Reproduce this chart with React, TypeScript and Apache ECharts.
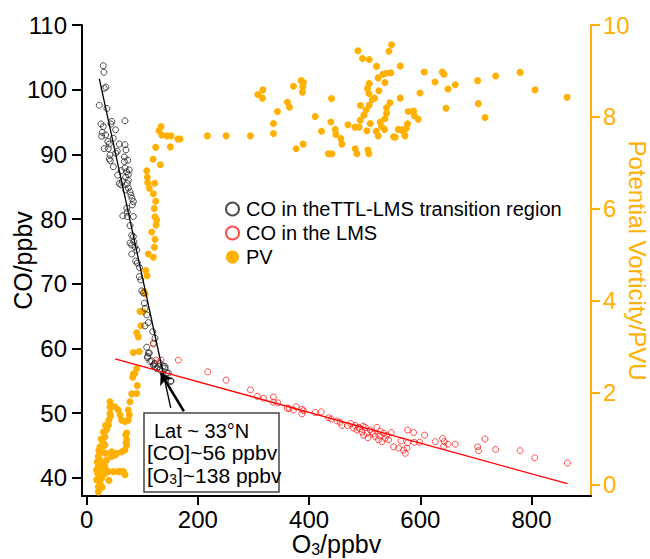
import React, { useEffect, useRef } from "react";
import * as echarts from "echarts";

// ---- Data ----
const xTicks = [0, 200, 400, 600, 800];
const coTicks = [40, 50, 60, 70, 80, 90, 100, 110];
const pvTicks = [0, 2, 4, 6, 8, 10];

// CO in the TTL-LMS transition region [O3, CO]
const coTransition: number[][] = [
  [29.9, 103.7], [31.1, 102.7], [34.7, 100.4], [31.7, 100.2], [22.7, 97.6], [36.5, 97.1],
  [25.7, 94.7], [45, 95.1], [43.7, 94.7], [68.9, 95.2], [29.9, 94.3], [28.1, 93.4],
  [27, 92.8], [34.2, 93], [47.9, 92.5], [40.7, 91.6], [58.7, 91.6], [68.9, 91.5],
  [31.7, 90.9], [38.9, 90.9], [70.7, 90.7], [52.2, 90.2], [41.9, 89.9], [67.7, 89.6],
  [40.7, 89.3], [42.5, 89], [73.8, 89.1], [67.7, 88.9], [47.9, 88.1], [68.9, 87.9],
  [76.7, 87.6], [72, 87.3], [55.8, 86.8], [74.9, 86.9], [58.7, 85.5], [61.7, 85.3],
  [73.1, 85.5], [74.9, 84.8], [77.9, 84.2], [79.7, 83.7], [81.5, 83.2], [83.9, 82.7],
  [82.1, 82.2], [72, 81.7], [73.1, 81.1], [73.1, 80.4], [83.9, 80.4], [81, 77.5],
  [83.9, 77.3], [77.9, 76.3], [81, 76], [86.9, 75.7], [90, 75.2], [81, 74.6],
  [91.1, 73.2], [94.7, 71.1], [97.2, 70.6], [99, 68.9], [101.9, 68.6], [103.7, 67],
  [104.9, 66.2], [108, 65.2], [110.9, 64], [118.8, 62.6], [122.9, 61.6], [108, 60.2],
  [110.9, 59.3], [109.8, 58.8], [113.9, 58], [121.7, 57.6], [122.9, 57.2], [128.9, 57.2],
  [140.9, 57.2], [146.9, 56.2], [151.7, 55], [62, 87.5], [75, 86], [70, 84.5],
  [65, 80.5], [78, 79], [70, 86.5], [52, 93.8], [64, 85.8], [88, 73.5], [105, 63.5],
  [120, 60.8], [112.7, 59.3], [109.1, 58.6], [117, 58.1], [122.9, 57.7], [119.9, 57.4],
  [131.9, 57.7], [137.9, 57.3], [140.9, 56.9], [144, 56.2], [151.2, 54.9], [131.9, 56.7],
  [126, 56.9], [55, 90.5], [38, 92], [95, 72.5], [85, 76.5],
];

// CO in the LMS [O3, CO]
const coLMS: number[][] = [
  [119.9, 60.7], [124.7, 58.2], [133.7, 58.2], [164.9, 58.2], [217.8, 56.4], [250.7, 55.1],
  [294.5, 53.6], [307.1, 52.6], [317.9, 52.3], [335.9, 52.5], [335.9, 51.7], [343.8, 51.6],
  [360.5, 50.8], [364.1, 50.7], [376.7, 51], [371.9, 50.5], [387, 50.6], [389.9, 50.4],
  [387, 49.9], [411, 50.1], [421.7, 50.2], [434.9, 49.3], [439.7, 49.1], [450, 48.8],
  [455.9, 48.6], [459, 48.1], [469.1, 48.1], [482.9, 48.1], [488.9, 47.8], [486, 47.4],
  [495, 47.1], [501, 47.8], [504, 46.9], [509.9, 47.4], [522, 47.8], [513, 47.1],
  [518.9, 46.4], [524.9, 45.9], [531, 45.6], [536.9, 46.1], [542.9, 45.9], [547.7, 47],
  [533.9, 46.9], [577.1, 47.4], [587.9, 47], [607.7, 46.6], [565.2, 45.7], [551.9, 44.8],
  [560.9, 44.6], [569.9, 44.3], [572.9, 43.8], [576, 44.6], [577.1, 45.4], [589.1, 45.5],
  [598.7, 45.5], [626.9, 45.6], [640.1, 46.1], [643.1, 45.6], [641.9, 44.9], [649.8, 45.2],
  [662.9, 45.2], [703.1, 44.8], [704.9, 44.2], [716.4, 46], [735.5, 44.4], [779.4, 44.2],
  [805.7, 43.1], [864.5, 42.3], [492, 47.6], [498, 46.6], [506, 46.2], [515, 46.8],
  [527, 46.5], [540, 46.6], [528, 47.2], [497, 48], [480, 47.7], [475, 48.4],
];

// PV [O3, PVU]
const pv: number[][] = [
  [168, 7.52], [217.1, 7.59], [250.7, 7.59], [294.5, 7.59], [335.9, 7.64], [335.9, 7.86],
  [343.1, 8.12], [307.8, 8.49], [316.8, 8.59], [316.1, 8.41], [361.1, 8.32], [364.7, 8.21],
  [371.9, 8.67], [385.7, 8.79], [389.9, 8.75], [388.8, 8.66], [388.1, 8.54], [376.7, 7.31],
  [389.3, 7.41], [411, 8.01], [422.3, 7.69], [440.3, 8.4], [439.2, 7.89], [446.9, 7.73],
  [448.2, 7.62], [457.2, 7.53], [459, 7.41], [434.9, 7.2], [441, 7.2], [469.8, 7.83],
  [482.4, 7.78], [490.1, 7.78], [492, 7.93], [482.9, 7.31], [486, 7.2], [487.8, 9.44],
  [496.1, 9.27], [508.1, 9.25], [521.3, 9.1], [492.5, 8.25], [498.6, 8.04], [502.7, 8.15],
  [508.1, 8.26], [505.1, 8.62], [508.1, 8.73], [507.6, 8.51], [513.5, 8.38], [517.7, 8.41],
  [525.6, 8.57], [524.3, 8.85], [532.8, 8.93], [538.7, 8.95], [547.2, 8.96], [536.4, 8.75],
  [504, 7.7], [509.9, 7.86], [505.8, 7.28], [507.6, 7.2], [520.7, 7.69], [524.3, 7.59],
  [527.9, 7.89], [530.3, 7.79], [535.7, 7.73], [536.4, 7.96], [539.3, 8.08], [539.3, 8.2],
  [545.4, 8.31], [543.6, 9.43], [548.3, 9.57], [551.9, 7.57], [554.9, 7.56], [560.3, 7.73],
  [563.9, 8.41], [563.9, 9.11], [607.1, 8.98], [639.5, 8.98], [642.6, 8.93], [626.4, 8.76],
  [662.9, 8.7], [649.8, 8.61], [599.4, 8.52], [703.1, 8.79], [735.5, 8.89], [779.4, 8.97],
  [806.4, 8.59], [864, 8.43], [646.2, 8.19], [704.3, 8.29], [716.4, 7.99], [578.3, 8.12],
  [587.9, 8.13], [589.1, 8.03], [596.3, 7.95], [577.1, 7.85], [574.7, 7.75], [569.9, 7.68],
  [572.4, 7.59], [567, 7.72],
  [133.7, 7.79], [130.1, 7.7], [135, 7.61], [144, 7.59], [151.7, 7.59], [163.8, 7.52],
  [124.2, 7.34], [150.5, 7.35], [119.3, 7.08], [132.5, 6.96], [108, 6.83], [109.1, 6.69],
  [109.8, 6.57], [122.4, 6.56], [112.7, 6.45], [119.9, 6.33], [124.2, 6.17], [121.7, 6.01],
  [122.9, 5.83], [126, 5.76], [124.7, 5.65], [117, 5.5], [122.9, 5.34], [121.7, 5.17],
  [110.9, 5.02], [119.9, 4.95], [106.2, 4.66], [108.5, 4.55], [103.7, 4.2], [104.9, 4.15],
  [95.9, 3.77], [101.9, 3.77], [97.7, 3.46], [90, 3.31], [92.9, 3.22], [94.7, 2.9],
  [83.9, 2.88], [90, 2.53], [83.9, 2.41], [91.1, 2.16], [86.9, 2.43], [82.8, 2.34],
  [90, 1.99], [81, 1.98], [77.9, 1.81], [74.9, 1.63], [76.7, 1.52], [74.9, 1.41],
  [68.9, 1.38], [63, 1.41], [59.9, 1.52], [56.9, 1.63], [50.9, 1.7], [45, 1.7],
  [41.9, 1.81], [41.9, 1.7], [41.9, 1.56], [40.1, 1.41], [38.9, 1.3], [36, 1.2],
  [32.9, 1.05], [29.9, 0.91], [27, 0.8], [23.9, 0.69], [23.9, 0.54], [20.9, 0.4],
  [19.8, 0.25], [18, 0.11], [20.9, -0.04], [27, 0.15], [32.9, 0.25], [38.9, 0.29],
  [47.9, 0.29], [56.9, 0.29], [65.9, 0.29], [68.9, 0.22], [36, 0.54], [45, 0.62],
  [54, 0.69], [63, 0.72], [68.9, 0.76], [72, 0.87], [72, 0.98], [70.2, 1.09],
  [45, 0.72], [32.9, 0.87], [23.9, 0.83], [20.9, 0.62], [27, 0.47], [18, 0.33],
  [23.9, 0.04], [20.9, -0.15], [32.9, 0.4], [34.2, 0.69], [72, 1.13], [70.7, 0.91],
  [22, 0.2], [25, 0.35], [19, 0.5], [22, 0.75], [26, 1.0], [30, 1.15], [34, 1.3],
  [43, 1.5], [60, 0.3], [52, 0.65], [40, 0.1], [28, -0.05], [24, 0.0],
];

// Fitted lines and arrow [O3, CO]
const fitTransition = [[22.7, 101.7], [151.2, 50.8]];
const fitLMS = [[51, 58.4], [864.5, 39.1]];
const arrowCoords = [[174.8, 50.3], [133.2, 56.2]];

const ORANGE = "#FFB000";
const FONT = "Liberation Sans, Arial, Helvetica, sans-serif";

export default function App() {
  const ref = useRef<HTMLDivElement>(null);
  useEffect(() => {
    if (!ref.current) return;
    const chart = echarts.init(ref.current, null, { renderer: "svg" });
    chart.setOption({
      animation: false,
      backgroundColor: "#fff",
      textStyle: { fontFamily: FONT },
      grid: { left: 82, right: 59, top: 25, bottom: 63, containLabel: false, outerBoundsMode: "none" },
      legend: {
        orient: "vertical",
        left: 220,
        top: 194,
        itemWidth: 13,
        itemHeight: 13,
        itemGap: 4,
        icon: "circle",
        textStyle: { fontSize: 20, color: "#000", fontFamily: FONT, padding: [0, 0, 0, 2] },
        data: ["CO in theTTL-LMS transition region", "CO in the LMS", "PV"],
      },
      xAxis: {
        type: "value",
        min: -8.4,
        max: 907,
        name: "{a|O}{s|3}{a|/ppbv}",
        nameLocation: "middle",
        nameGap: 35,
        nameMoveOverlap: false,
        nameTextStyle: {
          rich: {
            a: { fontSize: 25, color: "#000", fontFamily: FONT, lineHeight: 26 },
            s: { fontSize: 16, color: "#000", fontFamily: FONT, verticalAlign: "bottom", lineHeight: 8 },
          },
        },
        axisLine: { show: true, onZero: false, lineStyle: { color: "#000", width: 2 } },
        axisTick: { show: true, length: 9, customValues: xTicks, lineStyle: { color: "#000", width: 2 } },
        axisLabel: { customValues: xTicks, fontSize: 24, lineHeight: 22, color: "#000", margin: 12, fontFamily: FONT },
        splitLine: { show: false },
      },
      yAxis: [
        {
          type: "value",
          position: "left",
          min: 37.2,
          max: 110,
          name: "CO/ppbv",
          nameLocation: "middle",
          nameGap: 47,
          nameMoveOverlap: false,
          nameTextStyle: { fontSize: 25, color: "#000", fontFamily: FONT },
          axisLine: { show: true, onZero: false, lineStyle: { color: "#000", width: 2 } },
          axisTick: { show: true, length: 10, customValues: coTicks, lineStyle: { color: "#000", width: 2 } },
          axisLabel: { customValues: coTicks, fontSize: 24, color: "#000", margin: 15, fontFamily: FONT },
          splitLine: { show: false },
        },
        {
          type: "value",
          position: "right",
          min: -0.24,
          max: 10,
          name: "Potential Vorticity/PVU",
          nameLocation: "middle",
          nameRotate: -90,
          nameGap: 34,
          nameMoveOverlap: false,
          nameTextStyle: { fontSize: 24, lineHeight: 24, color: ORANGE, fontFamily: FONT },
          axisLine: { show: true, onZero: false, lineStyle: { color: ORANGE, width: 2 } },
          axisTick: { show: true, length: 9, customValues: pvTicks, lineStyle: { color: ORANGE, width: 2 } },
          axisLabel: { customValues: pvTicks, fontSize: 24, color: ORANGE, margin: 12, fontFamily: FONT },
          splitLine: { show: false },
        },
      ],
      series: [
        {
          name: "PV",
          type: "scatter",
          yAxisIndex: 1,
          data: pv,
          symbol: "circle",
          symbolSize: 7,
          itemStyle: { color: ORANGE, opacity: 1 },
          z: 2,
        },
        {
          name: "CO in theTTL-LMS transition region",
          type: "scatter",
          yAxisIndex: 0,
          data: coTransition,
          symbol: "circle",
          symbolSize: 6,
          itemStyle: { color: "rgba(255,255,255,0)", borderColor: "#222", borderWidth: 1 },
          z: 3,
        },
        {
          name: "CO in the LMS",
          type: "scatter",
          yAxisIndex: 0,
          data: coLMS,
          symbol: "circle",
          symbolSize: 6,
          itemStyle: { color: "rgba(255,255,255,0)", borderColor: "#ff2020", borderWidth: 1 },
          z: 3,
        },
        {
          name: "fitTransition",
          type: "line",
          yAxisIndex: 0,
          data: fitTransition,
          showSymbol: false,
          symbol: "none",
          lineStyle: { color: "#000", width: 1.3 },
          silent: true,
          z: 4,
        },
        {
          name: "fitLMS",
          type: "line",
          yAxisIndex: 0,
          data: fitLMS,
          showSymbol: false,
          symbol: "none",
          lineStyle: { color: "#ff0000", width: 1.3 },
          silent: true,
          z: 4,
        },
        {
          name: "arrow",
          type: "lines",
          coordinateSystem: "cartesian2d",
          xAxisIndex: 0,
          yAxisIndex: 0,
          data: [{ coords: arrowCoords }],
          symbol: ["none", "arrow"],
          symbolSize: 11,
          lineStyle: { color: "#000", width: 2.5, opacity: 1, curveness: 0 },
          silent: true,
          z: 5,
        },
      ],
      graphic: [
        {
          type: "group",
          z: 100,
          children: [
            {
              type: "rect",
              shape: { x: 144, y: 413, width: 135, height: 79 },
              style: { fill: "#fff", stroke: "#444", lineWidth: 1.5 },
            },
            {
              type: "text",
              x: 154,
              y: 431,
              style: { text: "Lat ~ 33°N", font: `20px ${FONT}`, fill: "#000", verticalAlign: "middle" },
            },
            {
              type: "text",
              x: 147,
              y: 452,
              style: { text: "[CO]~56 ppbv", font: `21px ${FONT}`, fill: "#000", verticalAlign: "middle" },
            },
            {
              type: "text",
              x: 147,
              y: 475,
              style: {
                text: "{a|[O}{s|3}{a|]~138 ppbv}",
                verticalAlign: "middle",
                rich: {
                  a: { fontSize: 21, fontFamily: FONT, fill: "#000", lineHeight: 22 },
                  s: { fontSize: 14, fontFamily: FONT, fill: "#000", verticalAlign: "bottom", lineHeight: 8 },
                },
              },
            },
          ],
        },
      ],
    });
    return () => chart.dispose();
  }, []);
  return (
    <div
      ref={ref}
      style={{ position: "fixed", left: 0, top: 0, width: 650, height: 559, background: "#fff" }}
    />
  );
}
